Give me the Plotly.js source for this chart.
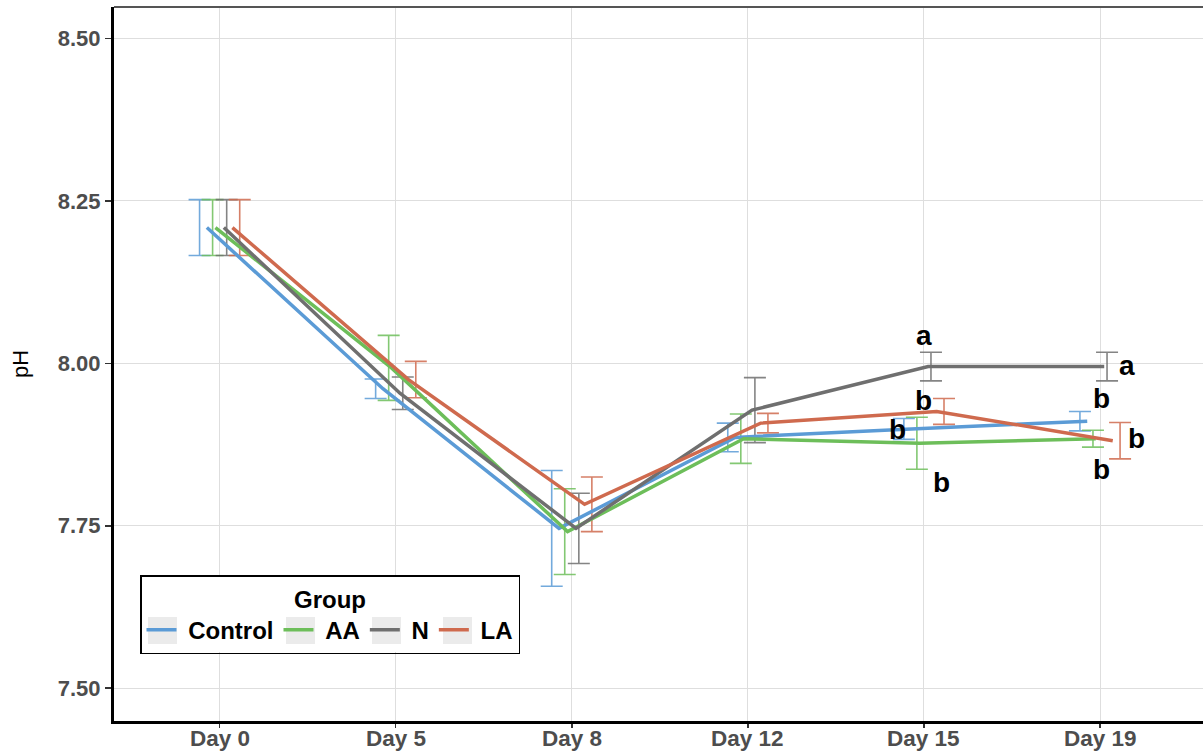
<!DOCTYPE html>
<html>
<head>
<meta charset="utf-8">
<script src="https://cdn.plot.ly/plotly-3.0.1.min.js"></script>
<style>
html,body{margin:0;padding:0;background:#fff;}
#chart{width:1203px;height:756px;}
</style>
</head>
<body>
<div id="chart"></div>
<script>
// ---- data ----
const days = ['Day 0', 'Day 5', 'Day 8', 'Day 12', 'Day 15', 'Day 19'];
const groups = ['Control', 'AA', 'N', 'LA'];
const controlMean = [8.209, 7.961, 7.746, 7.886, 7.899, 7.911];
const controlSE   = [0.043, 0.015, 0.089, 0.022, 0.016, 0.015];
const aaMean      = [8.209, 7.993, 7.741, 7.884, 7.877, 7.884];
const aaSE        = [0.043, 0.050, 0.066, 0.038, 0.040, 0.013];
const nMean       = [8.209, 7.954, 7.746, 7.928, 7.995, 7.995];
const nSE         = [0.043, 0.025, 0.054, 0.050, 0.022, 0.022];
const laMean      = [8.209, 7.975, 7.783, 7.908, 7.926, 7.881];
const laSE        = [0.043, 0.028, 0.042, 0.015, 0.020, 0.028];
const yTicks = [7.50, 7.75, 8.00, 8.25, 8.50];
// significance letters
const letterDay   = [4, 4, 4, 4, 5, 5, 5, 5];
const letterGroup = ['N', 'LA', 'Control', 'AA', 'N', 'Control', 'LA', 'AA'];
const letterText  = ['a', 'b', 'b', 'b', 'a', 'b', 'b', 'b'];

// ---- styling ----
const FONT = 'Liberation Sans, Arial, sans-serif';
const colors = {Control: '#5B9BD6', AA: '#6DBE5A', N: '#6F6F6F', LA: '#CF6A4E'};
const errColors = {Control: 'rgba(91,155,214,0.85)', AA: 'rgba(109,190,90,0.85)', N: 'rgba(111,111,111,0.85)', LA: 'rgba(207,106,78,0.85)'};
const lineOffset = {Control: -0.0725, AA: -0.024, N: 0.024, LA: 0.0725};
const errOffset = {Control: -0.114, AA: -0.04, N: 0.04, LA: 0.114};
const letterShift = [[0, 31], [0, 11], [-26, -1], [18, -39], [27, 1], [1, 23], [36, 2], [1, -31]];

const means = {Control: controlMean, AA: aaMean, N: nMean, LA: laMean};
const ses = {Control: controlSE, AA: aaSE, N: nSE, LA: laSE};
const idx = days.map((d, i) => i);

const traces = [];
groups.forEach(g => {
  traces.push({
    type: 'scatter', mode: 'markers', showlegend: false, hoverinfo: 'skip',
    x: idx.map(i => i + errOffset[g]), y: means[g],
    marker: {size: 1, opacity: 0, color: colors[g]},
    error_y: {type: 'data', array: ses[g], visible: true, color: errColors[g], thickness: 1.6, width: 11}
  });
});
groups.forEach(g => {
  traces.push({
    type: 'scatter', mode: 'lines', name: '&nbsp;<b>' + g + '</b>',
    x: idx.map(i => i + lineOffset[g]), y: means[g],
    line: {color: colors[g], width: 3.5}
  });
});

const annotations = letterText.map((t, k) => ({
  x: letterDay[k], y: means[letterGroup[k]][letterDay[k]],
  xref: 'x', yref: 'y', text: '<b>' + t + '</b>', showarrow: false,
  xshift: letterShift[k][0], yshift: letterShift[k][1],
  font: {family: FONT, size: 28, color: '#000'}
}));
// x-axis category labels
days.forEach((d, i) => annotations.push({
  x: i, y: 0, xref: 'x', yref: 'paper', yanchor: 'top', yshift: -2.5,
  text: '<b>' + d + '</b>', showarrow: false,
  font: {family: FONT, size: 22.5, color: '#4D4D4D'}
}));

// legend key swatches (grey backgrounds) and legend box background
const swatchX = [148, 286, 372, 443];
const shapes = [
  {type: 'line', xref: 'paper', yref: 'paper', x0: 0, x1: 1, y0: 1, y1: 1, line: {color: '#555', width: 2}},
  {type: 'rect', xref: 'paper', yref: 'paper', layer: 'above',
   x0: (140 - 114) / 1089, x1: (522 - 114) / 1089, y0: (721 - 652) / 714, y1: (721 - 575) / 714,
   fillcolor: '#fff', line: {width: 0}}
];
swatchX.forEach(sx => shapes.push({
  type: 'rect', xref: 'paper', yref: 'paper', layer: 'above',
  x0: (sx - 114) / 1089, x1: (sx + 29 - 114) / 1089, y0: (721 - 644) / 714, y1: (721 - 617) / 714,
  fillcolor: '#EBEBEB', line: {width: 0}
}));

const layout = {
  width: 1203, height: 756,
  margin: {l: 114, r: 0, t: 7, b: 35},
  paper_bgcolor: '#fff', plot_bgcolor: '#fff',
  font: {family: FONT},
  xaxis: {
    range: [-0.6, 5.585], tickmode: 'array', tickvals: idx, showticklabels: false,
    showgrid: true, gridcolor: '#DEDEDE', gridwidth: 1, zeroline: false,
    showline: true, linecolor: '#000', linewidth: 3,
    ticks: 'outside', ticklen: 4, tickwidth: 1.5, tickcolor: '#333'
  },
  yaxis: {
    range: [7.4495, 8.5485], tickmode: 'array', tickvals: yTicks, ticktext: yTicks.map(v => '<b>' + v.toFixed(2) + '</b>'),
    showgrid: true, gridcolor: '#DEDEDE', gridwidth: 1, zeroline: false,
    showline: true, linecolor: '#000', linewidth: 3,
    ticks: 'outside', ticklen: 6, tickwidth: 1.5, tickcolor: '#333',
    tickfont: {size: 22, color: '#4D4D4D'},
    title: {text: 'pH', font: {size: 22, color: '#000'}, standoff: 24},
    automargin: false
  },
  shapes: shapes,
  showlegend: true,
  legend: {
    orientation: 'h', x: (140 - 114) / 1089, y: (721 - 575) / 714, xanchor: 'left', yanchor: 'top',
    bgcolor: 'rgba(0,0,0,0)', bordercolor: '#000', borderwidth: 1.5,
    title: {text: '<b>Group</b>', side: 'top center', font: {size: 24, color: '#000'}},
    font: {size: 24, color: '#000'},
    traceorder: 'normal'
  },
  annotations: annotations
};

Plotly.newPlot('chart', traces, layout, {displayModeBar: false, staticPlot: true});
</script>
</body>
</html>
